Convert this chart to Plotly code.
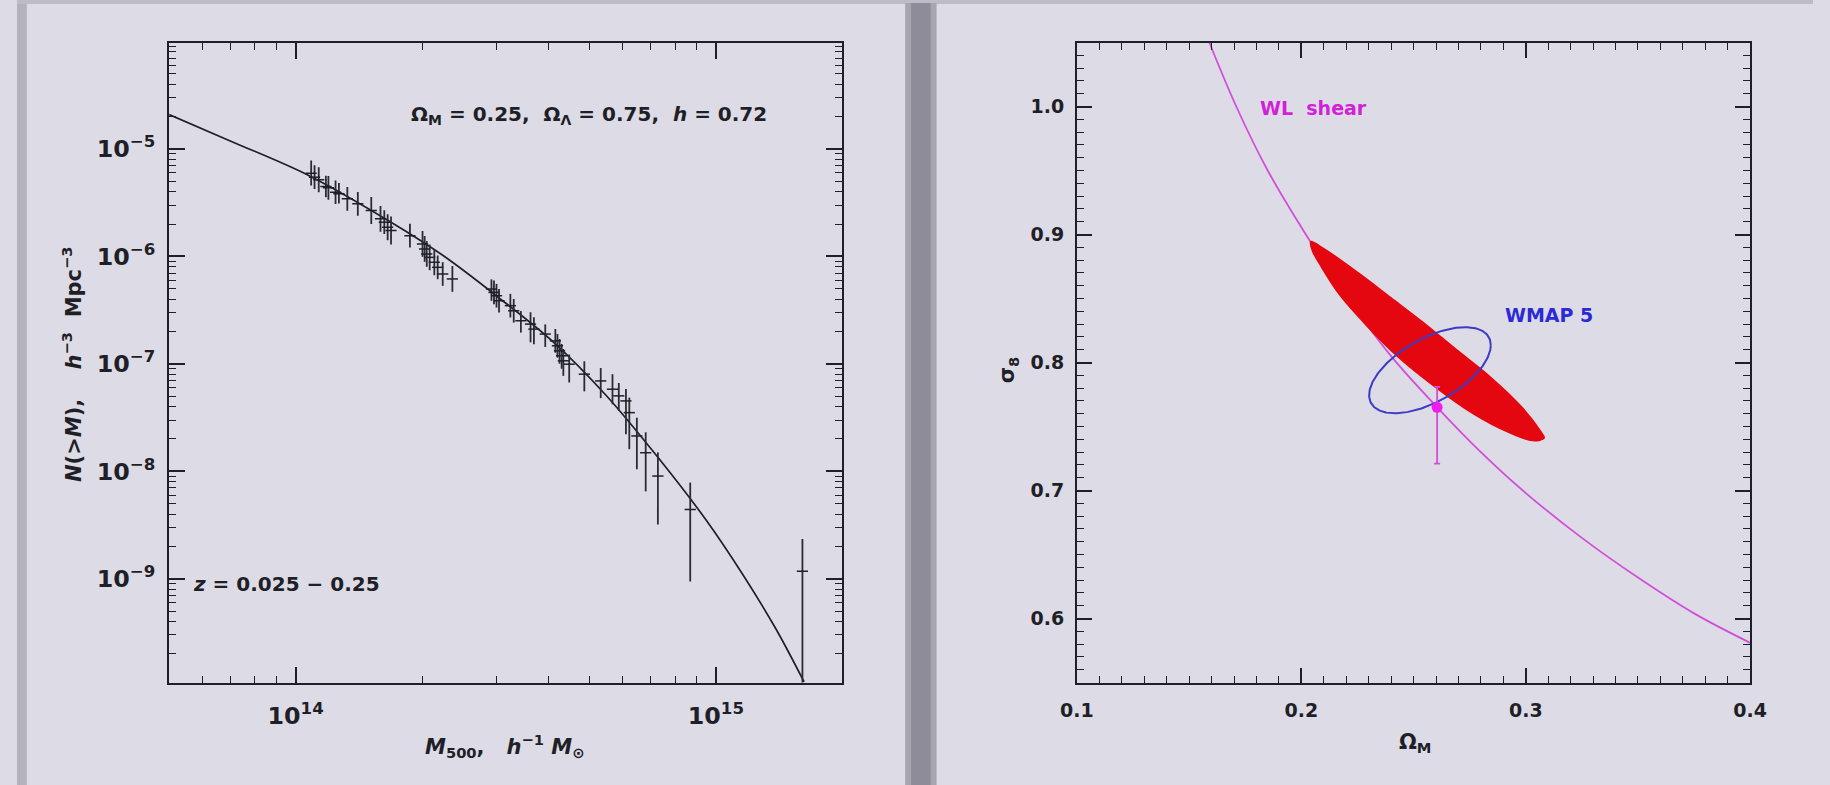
import numpy as np
import plotly.graph_objects as go

W, H = 1830, 785
INK = "#1f1f27"
BG = "#dddce6"
FONT = "DejaVu Sans"

# ---------------- left panel: cumulative mass function ----------------
# model curve, log10 M500 [h^-1 Msun] and log10 N(>M) [h^3 Mpc^-3]
model_log_m = [13.699, 13.85, 14.031, 14.226, 14.35, 14.482, 14.614,
               14.738, 14.862, 14.978, 15.064, 15.142, 15.21]
model_log_n = [-4.681, -4.935, -5.247, -5.68, -5.99, -6.38, -6.80,
               -7.29, -7.87, -8.46, -8.96, -9.46, -9.96]

# cluster sample, z = 0.025-0.25
cl_log_m = [14.037, 14.045, 14.055, 14.072, 14.078, 14.095, 14.103, 14.123,
            14.148, 14.180, 14.202, 14.211, 14.219, 14.227, 14.272,
            14.302, 14.307, 14.312, 14.319, 14.330, 14.338, 14.350, 14.373,
            14.466, 14.472, 14.478, 14.484, 14.511, 14.519, 14.536, 14.559,
            14.567, 14.594,
            14.618, 14.623, 14.628, 14.633, 14.637, 14.651, 14.687, 14.726,
            14.754, 14.769, 14.786, 14.794, 14.812, 14.833, 14.862,
            14.939, 15.206]
cl_log_n = [-5.226, -5.263, -5.287, -5.350, -5.362, -5.403, -5.418, -5.465,
            -5.511, -5.573, -5.651, -5.682, -5.729, -5.760, -5.807,
            -5.884, -5.931, -5.977, -6.009, -6.055, -6.102, -6.164, -6.210,
            -6.304, -6.335, -6.366, -6.413, -6.459, -6.506, -6.599, -6.630,
            -6.677, -6.723,
            -6.786, -6.832, -6.879, -6.925, -6.972, -7.003, -7.096, -7.159,
            -7.236, -7.298, -7.345, -7.454, -7.671, -7.827, -8.044,
            -8.355, -8.930]
# error bars in dex (upper, lower)
cl_err_up = [0.118, 0.11, 0.117, 0.10, 0.11, 0.11, 0.10, 0.11,
             0.11, 0.125, 0.12, 0.11, 0.12, 0.13, 0.11,
             0.12, 0.12, 0.12, 0.12, 0.12, 0.11, 0.11, 0.12,
             0.09, 0.11, 0.11, 0.11, 0.11, 0.11, 0.09, 0.11,
             0.11, 0.09,
             0.11, 0.11, 0.11, 0.11, 0.11, 0.09, 0.12, 0.12,
             0.14, 0.12, 0.11, 0.14, 0.17, 0.19, 0.22,
             0.25, 0.30]
cl_err_dn = [0.115, 0.11, 0.117, 0.10, 0.11, 0.11, 0.09, 0.11,
             0.11, 0.125, 0.12, 0.11, 0.12, 0.13, 0.11,
             0.12, 0.12, 0.12, 0.12, 0.12, 0.11, 0.11, 0.12,
             0.11, 0.11, 0.11, 0.11, 0.11, 0.11, 0.11, 0.17,
             0.14, 0.12,
             0.11, 0.11, 0.12, 0.12, 0.14, 0.17, 0.16, 0.16,
             0.14, 0.14, 0.31, 0.34, 0.31, 0.36, 0.45,
             0.67, 1.30]

# ---------------- right panel: sigma_8 vs Omega_M ----------------
wl_omega = [0.159, 0.171, 0.185, 0.202, 0.22, 0.24, 0.26, 0.28, 0.30,
            0.325, 0.35, 0.375, 0.40]
wl_sigma8 = [1.05, 1.00, 0.95, 0.90, 0.852, 0.805, 0.766, 0.73, 0.698,
             0.663, 0.632, 0.604, 0.581]

# cluster-count confidence region (closed outline)
cc_omega = [0.2042, 0.2100, 0.2254, 0.2400, 0.2545, 0.2691, 0.2837, 0.2983,
            0.3065, 0.3082, 0.3030, 0.2880, 0.2730, 0.2580, 0.2430, 0.2290,
            0.2170, 0.2085, 0.2050, 0.2042]
cc_sigma8 = [0.8944, 0.8890, 0.8700, 0.8505, 0.8310, 0.8100, 0.7895, 0.7650,
             0.7465, 0.7410, 0.7390, 0.7490, 0.7640, 0.7830, 0.8045, 0.8290,
             0.8530, 0.8760, 0.8870, 0.8944]

# WMAP5 contour: centre and conjugate semi-diameters
wmap_center = (0.2573, 0.794)
wmap_semi_a = (0.0271, 0.0195)
wmap_semi_b = (0.0, 0.0274)

# weak-lensing shear point
wl_point_omega = [0.2605]
wl_point_sigma8 = [0.765]
wl_point_err_up = [0.016]
wl_point_err_dn = [0.044]

fig = go.Figure()

# ---- left panel traces ----
fig.add_trace(go.Scatter(
    x=[10 ** v for v in model_log_m], y=[10 ** v for v in model_log_n],
    mode="lines", line=dict(color=INK, width=1.7, shape="spline"),
    xaxis="x", yaxis="y", hoverinfo="skip"))

cl_m = [10 ** v for v in cl_log_m]
cl_n = [10 ** v for v in cl_log_n]
cl_plus = [n * (10 ** u - 1) for n, u in zip(cl_n, cl_err_up)]
cl_minus = [n * (1 - 10 ** (-d)) for n, d in zip(cl_n, cl_err_dn)]
fig.add_trace(go.Scatter(
    x=cl_m, y=cl_n, mode="markers",
    marker=dict(symbol="line-ew", size=8, line=dict(color=INK, width=1.5)),
    error_y=dict(type="data", array=cl_plus, arrayminus=cl_minus,
                 color="#2b2b33", thickness=1.8, width=0),
    xaxis="x", yaxis="y", hoverinfo="skip"))

# ---- right panel traces ----
fig.add_trace(go.Scatter(
    x=wl_omega, y=wl_sigma8, mode="lines",
    line=dict(color="#d24fd8", width=1.8, shape="spline"),
    xaxis="x2", yaxis="y2", hoverinfo="skip"))

fig.add_trace(go.Scatter(
    x=cc_omega, y=cc_sigma8, mode="lines", fill="toself",
    fillcolor="#e5070f", line=dict(color="#e5070f", width=1.5, shape="spline"),
    xaxis="x2", yaxis="y2", hoverinfo="skip"))

t = np.linspace(0, 2 * np.pi, 241)
ell_x = wmap_center[0] + wmap_semi_a[0] * np.cos(t) + wmap_semi_b[0] * np.sin(t)
ell_y = wmap_center[1] + wmap_semi_a[1] * np.cos(t) + wmap_semi_b[1] * np.sin(t)
fig.add_trace(go.Scatter(
    x=ell_x, y=ell_y, mode="lines", line=dict(color="#3b3bc8", width=2),
    xaxis="x2", yaxis="y2", hoverinfo="skip"))

fig.add_trace(go.Scatter(
    x=wl_point_omega, y=wl_point_sigma8, mode="markers",
    marker=dict(color="#f01cf0", size=11),
    error_y=dict(type="data", array=wl_point_err_up, arrayminus=wl_point_err_dn,
                 color="#d24fd8", thickness=1.8, width=3),
    xaxis="x2", yaxis="y2", hoverinfo="skip"))

# ---- axes ----
def px_x(p):
    return p / W


def px_y(p):
    return 1 - p / H


y_dom = [px_y(682.5), px_y(42.5)]

tick_font = dict(family=FONT, size=19, color=INK, weight="bold")
common = dict(showline=True, linewidth=2, linecolor=INK, mirror="allticks",
              ticks="inside", tickwidth=1.6, tickcolor=INK, showgrid=False,
              zeroline=False, tickfont=tick_font)

fig.update_layout(
    xaxis=dict(domain=[px_x(155), px_x(841)], anchor="y", type="log",
               range=[np.log10(5e13), np.log10(2e15)], dtick=1,
               exponentformat="power", ticklen=16, ticklabelstandoff=12,
               minor=dict(ticks="inside", ticklen=7, tickwidth=1.3,
                          tickcolor=INK, dtick="D1", showgrid=False),
               **common),
    yaxis=dict(domain=y_dom, anchor="x", type="log",
               range=[-9.965, -4.01], dtick=1, exponentformat="power",
               ticklen=16, ticklabelstandoff=8,
               minor=dict(ticks="inside", ticklen=7, tickwidth=1.3,
                          tickcolor=INK, dtick="D1", showgrid=False),
               **common),
    xaxis2=dict(domain=[px_x(1080), px_x(1766)], anchor="y2",
                range=[0.1, 0.4], tick0=0, dtick=0.1, tickformat=".1f",
                ticklen=15, ticklabelstandoff=10,
                minor=dict(ticks="inside", ticklen=7, tickwidth=1.3,
                           tickcolor=INK, dtick=0.01, tick0=0, showgrid=False),
                **common),
    yaxis2=dict(domain=y_dom, anchor="x2",
                range=[0.55, 1.05], tick0=0, dtick=0.1, tickformat=".1f",
                ticklen=15, ticklabelstandoff=7,
                minor=dict(ticks="inside", ticklen=7, tickwidth=1.3,
                           tickcolor=INK, dtick=0.01, tick0=0, showgrid=False),
                **common),
)

# ---- text ----
txt = dict(family=FONT, size=21, color=INK, weight="bold")
ann_txt = dict(family=FONT, size=20, color=INK, weight="bold")
centered = dict(xanchor="center", yanchor="middle", showarrow=False)
annotations = [
    # left panel titles
    dict(x=px_x(56), y=px_y(364), xref="paper", yref="paper", textangle=-90,
         text="<i>N</i>(&gt;<i>M</i>),    <i>h</i><sup>−3</sup>  Mpc<sup>−3</sup>",
         font=txt, **centered),
    dict(x=px_x(497), y=px_y(746), xref="paper", yref="paper",
         text="<i>M</i><sub>500</sub>,   <i>h</i><sup>−1</sup> <i>M</i><sub>⊙</sub>",
         font=txt, **centered),
    dict(x=14.270, y=-4.688, xref="x", yref="y", xanchor="left",
         yanchor="middle",
         text="Ω<sub>M</sub> = 0.25,  Ω<sub>Λ</sub> = 0.75,  <i>h</i> = 0.72",
         showarrow=False, font=ann_txt),
    dict(x=13.752, y=-9.051, xref="x", yref="y", xanchor="left",
         yanchor="middle",
         text="<i>z</i> = 0.025 − 0.25", showarrow=False, font=ann_txt),
    # right panel titles
    dict(x=px_x(1010), y=px_y(370), xref="paper", yref="paper", textangle=-90,
         text="σ<sub>8</sub>", font=txt, **centered),
    dict(x=px_x(1424), y=px_y(743), xref="paper", yref="paper",
         text="Ω<sub>M</sub>", font=txt, **centered),
    dict(x=0.1809, y=0.999, xref="x2", yref="y2", xanchor="left",
         yanchor="middle", text="WL  shear", showarrow=False,
         font=dict(family=FONT, size=19, color="#d21fd8", weight="bold")),
    dict(x=0.290, y=0.837, xref="x2", yref="y2", xanchor="left",
         yanchor="middle", text="WMAP 5", showarrow=False,
         font=dict(family=FONT, size=19, color="#2a2ad6", weight="bold")),
]

# ---- frame: borders and panel separator ----
shapes = [
    dict(type="rect", xref="paper", yref="paper", x0=0, x1=px_x(10),
         y0=0, y1=1, fillcolor="#b3b2bd", line=dict(width=0), layer="below"),
    dict(type="rect", xref="paper", yref="paper", x0=0, x1=1,
         y0=px_y(4), y1=1, fillcolor="#bdbcc7", line=dict(width=0), layer="below"),
    dict(type="rect", xref="paper", yref="paper", x0=px_x(905), x1=px_x(937),
         y0=0, y1=px_y(3), fillcolor="#a6a5b0", line=dict(width=0), layer="below"),
    dict(type="rect", xref="paper", yref="paper", x0=px_x(911), x1=px_x(931),
         y0=0, y1=px_y(3), fillcolor="#8d8c98", line=dict(width=0), layer="below"),
]

fig.update_layout(
    width=W, height=H, margin=dict(l=0, r=0, t=0, b=0),
    paper_bgcolor=BG, plot_bgcolor=BG, showlegend=False,
    annotations=annotations, shapes=shapes,
    font=dict(family=FONT, color=INK),
)

fig.write_html("out.html")
